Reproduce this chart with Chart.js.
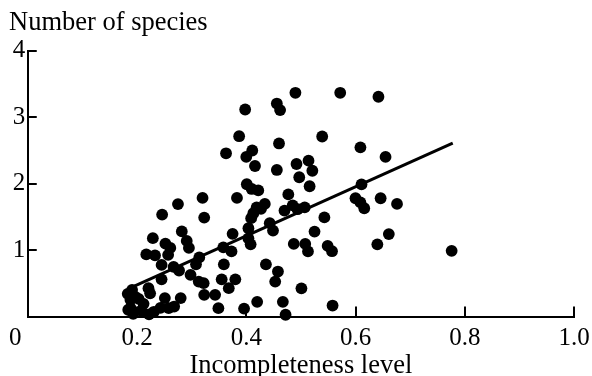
<!DOCTYPE html>
<html>
<head>
<meta charset="utf-8">
<script src="https://cdn.jsdelivr.net/npm/chart.js@4.4.0/dist/chart.umd.min.js"></script>
<style>
  html, body { margin: 0; padding: 0; background: #ffffff; }
  #wrap { width: 592px; height: 376px; }
</style>
</head>
<body>
<div id="wrap"><canvas id="c" width="592" height="376"></canvas></div>
<script>
// Incompleteness level (x) of each point
const xValues = [
  0.398,0.456,0.462,0.490,0.572,0.642,0.387,0.460,0.539,0.609,
  0.655,0.363,0.400,0.411,0.416,0.456,0.492,0.514,0.521,0.497,
  0.516,0.611,0.401,0.410,0.422,0.477,0.383,0.320,0.275,0.600,
  0.609,0.616,0.646,0.676,0.434,0.419,0.413,0.427,0.470,0.485,
  0.494,0.507,0.409,0.246,0.323,0.543,0.443,0.449,0.404,0.404,
  0.375,0.525,0.661,0.282,0.291,0.295,0.229,0.252,0.261,0.487,
  0.508,0.640,0.549,0.557,0.513,0.776,0.257,0.217,0.233,0.358,
  0.373,0.408,0.314,0.308,0.359,0.436,0.245,0.267,0.277,0.298,
  0.458,0.453,0.313,0.322,0.355,0.380,0.368,0.245,0.323,0.343,
  0.501,0.251,0.258,0.268,0.280,0.349,0.396,0.420,0.467,0.472,
  0.558,0.221,0.224,0.191,0.183,0.188,0.197,0.203,0.188,0.193,
  0.208,0.222,0.231,0.243,0.184,0.212
];
// Number of species (y) of each point
const yValues = [
  3.116,3.206,3.108,3.368,3.368,3.308,2.714,2.605,2.710,2.547,
  2.402,2.457,2.402,2.499,2.266,2.206,2.296,2.346,2.194,2.096,
  1.961,1.988,1.991,1.920,1.898,1.838,1.785,1.785,1.692,1.780,
  1.717,1.630,1.780,1.695,1.695,1.642,1.555,1.620,1.594,1.672,
  1.615,1.642,1.480,1.534,1.489,1.492,1.405,1.293,1.329,1.176,
  1.244,1.278,1.241,1.281,1.138,1.033,1.179,1.096,1.033,1.093,
  1.093,1.086,1.063,0.983,0.980,0.988,0.928,0.935,0.920,1.041,
  0.980,1.086,0.890,0.785,0.785,0.785,0.777,0.747,0.692,0.627,
  0.677,0.526,0.526,0.502,0.559,0.559,0.427,0.559,0.326,0.326,
  0.424,0.277,0.126,0.150,0.277,0.126,0.119,0.221,0.221,0.026,
  0.165,0.427,0.349,0.402,0.341,0.251,0.296,0.266,0.131,0.041,
  0.086,0.033,0.071,0.131,0.101,0.191
];
// Regression line end points
const trendX = [0.188, 0.778];
const trendY = [0.43, 2.61];
// Tick labels
const xTickLabels = ['0    ', '0.2', '0.4', '0.6', '0.8', '1.0'];
const yTickLabels = ['', '1', '2', '3', '4'];
const xTitle = 'Incompleteness level';
const yTitle = 'Number of species';

const SERIF = "'Liberation Serif', 'Times New Roman', serif";

const points = xValues.map((x, i) => ({ x: x, y: yValues[i] }));
const trend = trendX.map((x, i) => ({ x: x, y: trendY[i] }));

const innerTicks = {
  id: 'innerTicks',
  afterDraw(chart) {
    const ctx = chart.ctx;
    const xs = chart.scales.x, ys = chart.scales.y;
    ctx.save();
    ctx.strokeStyle = '#000';
    ctx.lineWidth = 2;
    ctx.beginPath();
    xs.ticks.forEach((t, i) => {
      if (i === 0) return;
      const px = Math.round(xs.getPixelForValue(t.value));
      ctx.moveTo(px, ys.bottom);
      ctx.lineTo(px, ys.bottom - 10);
    });
    ys.ticks.forEach((t, i) => {
      if (i === 0) return;
      const py = Math.round(ys.getPixelForValue(t.value));
      ctx.moveTo(xs.left, py);
      ctx.lineTo(xs.left + 9, py);
    });
    ctx.stroke();
    ctx.restore();
  }
};

new Chart(document.getElementById('c'), {
  type: 'scatter',
  data: {
    datasets: [
      {
        type: 'line',
        data: trend,
        borderColor: '#000',
        borderWidth: 3,
        pointRadius: 0,
        fill: false,
        clip: false
      },
      {
        data: points,
        backgroundColor: '#000',
        borderColor: '#000',
        borderWidth: 0,
        pointRadius: 5.9,
        pointHoverRadius: 5.9,
        clip: false
      }
    ]
  },
  options: {
    responsive: false,
    animation: false,
    devicePixelRatio: 1,
    layout: { padding: { left: 9, right: 0, top: 0, bottom: 0 } },
    plugins: {
      legend: { display: false },
      tooltip: { enabled: false },
      title: {
        display: true,
        text: yTitle,
        align: 'start',
        color: '#000',
        font: { family: SERIF, size: 26.5, weight: 'normal', lineHeight: 1.2 },
        padding: { top: 7, bottom: 12 }
      }
    },
    scales: {
      x: {
        type: 'linear',
        min: 0,
        max: 1,
        afterFit: (scale) => { scale.paddingRight = 18; },
        grid: { display: true, drawOnChartArea: false, drawTicks: false },
        border: { display: true, color: '#000', width: 2 },
        ticks: {
          stepSize: 0.2,
          padding: 9,
          color: '#000',
          maxRotation: 0,
          autoSkip: false,
          font: { family: SERIF, size: 25, lineHeight: 1.0 },
          callback: (v, i) => xTickLabels[i]
        },
        title: {
          display: true,
          text: xTitle,
          color: '#000',
          padding: { top: -7, bottom: -3 },
          font: { family: SERIF, size: 26.5, lineHeight: 1.0 }
        }
      },
      y: {
        type: 'linear',
        min: 0,
        max: 4,
        grid: { display: true, drawOnChartArea: false, drawTicks: false },
        border: { display: true, color: '#000', width: 2 },
        ticks: {
          stepSize: 1,
          padding: 2.5,
          color: '#000',
          autoSkip: false,
          font: { family: SERIF, size: 25, lineHeight: 1.2 },
          callback: (v, i) => yTickLabels[i]
        }
      }
    }
  },
  plugins: [innerTicks]
});
</script>
</body>
</html>
